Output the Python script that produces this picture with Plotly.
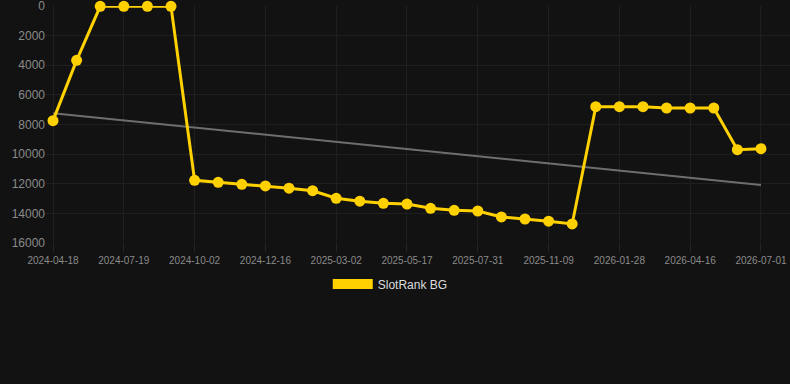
import plotly.graph_objects as go

dates = [
    "2024-04-18", "2024-05-19", "2024-06-18",
    "2024-07-19", "2024-08-13", "2024-09-07",
    "2024-10-02", "2024-10-27", "2024-11-21",
    "2024-12-16", "2025-01-10", "2025-02-04",
    "2025-03-02", "2025-03-27", "2025-04-21",
    "2025-05-17", "2025-06-11", "2025-07-06",
    "2025-07-31", "2025-08-31", "2025-10-05",
    "2025-11-09", "2025-12-05", "2026-01-01",
    "2026-01-28", "2026-02-23", "2026-03-21",
    "2026-04-16", "2026-05-11", "2026-06-06",
    "2026-07-01",
]
rank = [
    7740, 3670, 20, 20, 20, 20,
    11770, 11900, 12035, 12150, 12300, 12470,
    12980, 13180, 13320, 13370, 13660, 13790,
    13840, 14240, 14380, 14530, 14715,
    6800, 6800, 6800, 6885, 6885, 6885,
    9700, 9630,
]
trend_x = [dates[0], dates[-1]]
trend_y = [7240, 12080]
tick_dates = dates[::3]
y_ticks = [0, 2000, 4000, 6000, 8000, 10000, 12000, 14000, 16000]
y_tick_text = [str(v) for v in y_ticks]
series_name = "SlotRank BG"

YELLOW = "#FFD100"
BG = "#121212"

fig = go.Figure()
fig.add_trace(go.Scatter(
    x=trend_x, y=trend_y, mode="lines",
    line=dict(color="#6e6e6e", width=2),
    showlegend=False, hoverinfo="skip",
))
fig.add_trace(go.Scatter(
    x=dates, y=rank, mode="lines+markers",
    line=dict(color=YELLOW, width=3),
    marker=dict(color=YELLOW, size=11),
    cliponaxis=False, showlegend=False, name=series_name,
))
fig.add_trace(go.Scatter(
    x=[None], y=[None], mode="lines",
    line=dict(color=YELLOW, width=11),
    name=series_name, showlegend=True,
))

n = len(dates)
fig.update_layout(
    width=790, height=384,
    paper_bgcolor=BG, plot_bgcolor=BG,
    margin=dict(l=46, r=0, t=6, b=141),
    font=dict(family="Liberation Sans, Arial, sans-serif", color="#8a8a8a"),
    xaxis=dict(
        type="category", categoryorder="array", categoryarray=dates,
        range=[-0.297, (n - 1) + 1.23],
        tickmode="array", tickvals=tick_dates, ticktext=tick_dates,
        tickfont=dict(size=10, color="#8a8a8a"),
        showgrid=True, gridcolor="#1f1f1f", gridwidth=1,
        zeroline=False, showline=False,
        ticks="outside", ticklen=8, tickcolor="#262626",
    ),
    yaxis=dict(
        range=[16000, -1], tickmode="array", tickvals=y_ticks, ticktext=y_tick_text,
        tickfont=dict(size=12, color="#8a8a8a"),
        showgrid=True, gridcolor="#1f1f1f", gridwidth=1,
        zeroline=False, showline=False, ticks="",
        ticklabeloverflow="allow",
    ),
    legend=dict(
        orientation="h", xref="container", yref="container",
        x=0.494, xanchor="center", y=1 - 284 / 384, yanchor="middle",
        font=dict(size=12, color="#dddddd"), itemwidth=40,
        bgcolor="rgba(0,0,0,0)",
    ),
    showlegend=True,
)

fig.write_html("out.html")
